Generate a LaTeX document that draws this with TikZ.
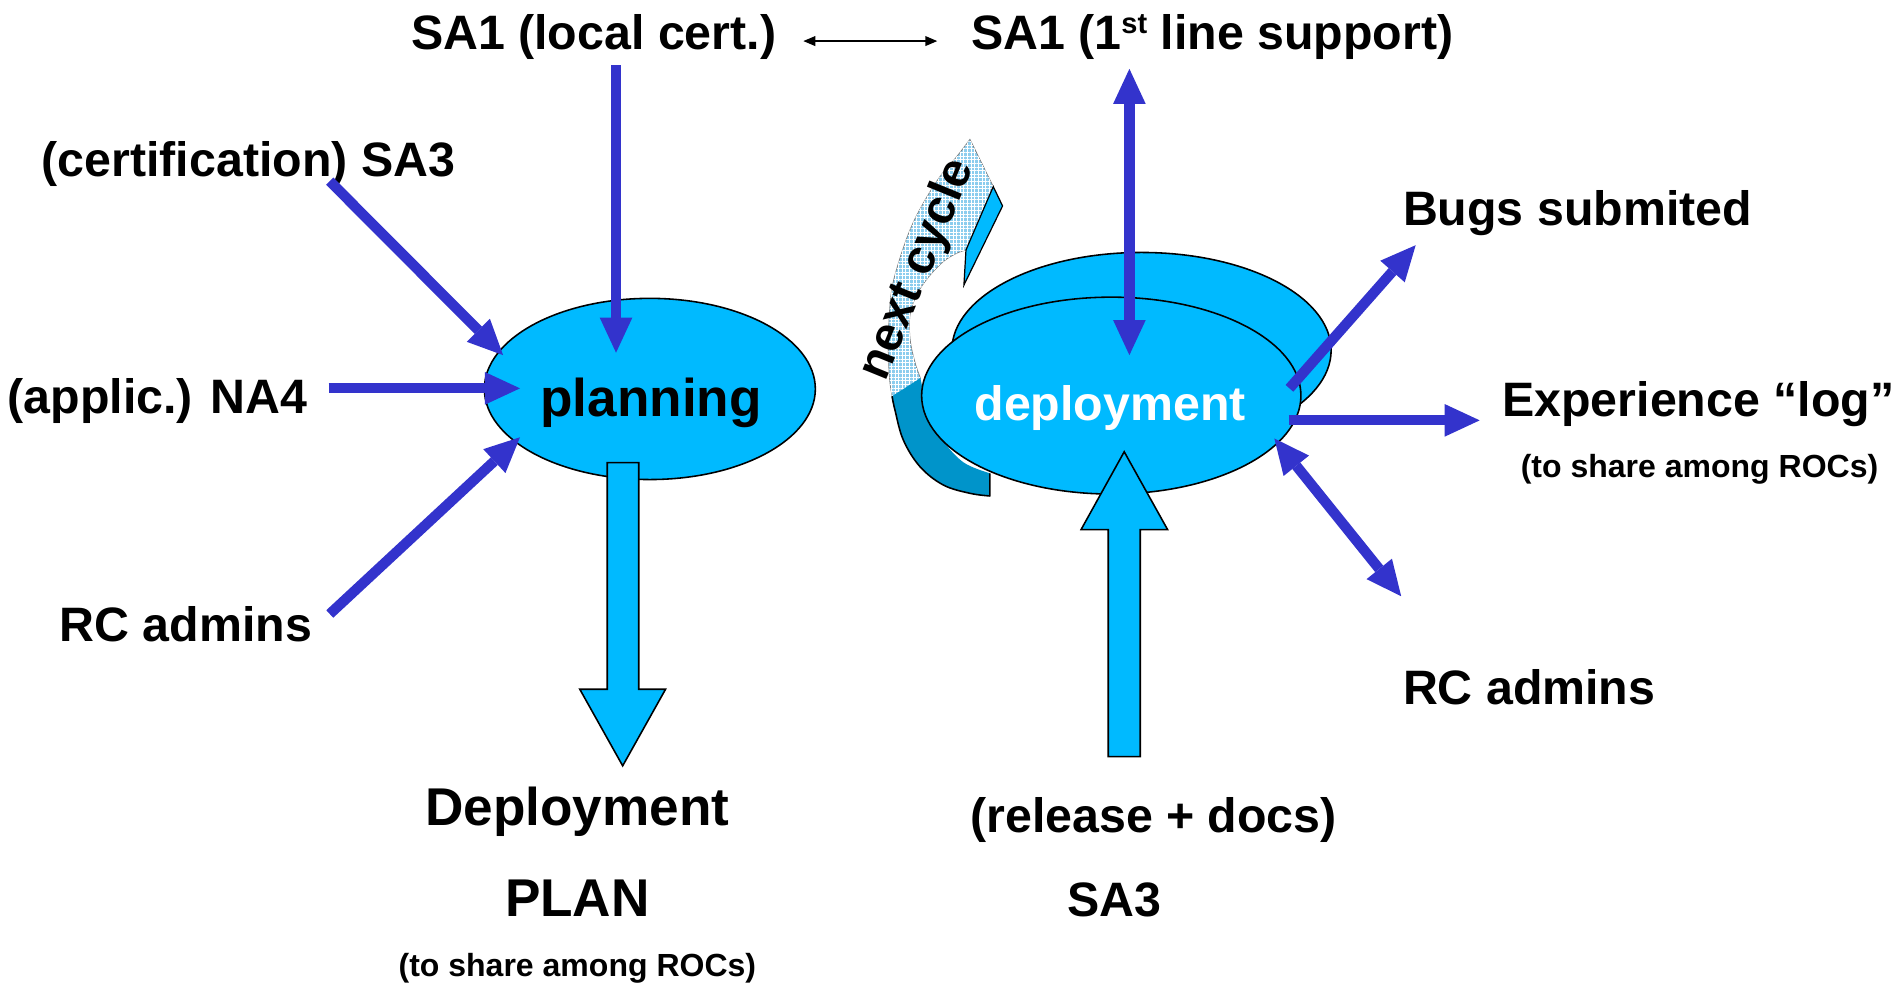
\documentclass[tikz,border=0pt]{standalone}
\usepackage{fontspec}
\setmainfont{Liberation Sans}
\usetikzlibrary{arrows.meta,shapes.geometric,patterns.meta}
\definecolor{skyb}{RGB}{0,186,255}
\definecolor{darkb}{RGB}{0,148,202}
\definecolor{arrb}{RGB}{51,51,204}
\definecolor{patb}{RGB}{140,205,238}
\begin{document}
\begin{tikzpicture}[x=1pt,y=-1pt,
  lbl/.style={font=\fontsize{40}{48}\selectfont\bfseries, anchor=base, inner sep=0pt},
  biglbl/.style={font=\fontsize{44}{52}\selectfont\bfseries, anchor=base, inner sep=0pt},
  smalllbl/.style={font=\fontsize{26.5}{32}\selectfont\bfseries, anchor=base, inner sep=0pt},
  blob/.style={draw=black, line width=1.3pt, fill=skyb, ellipse, inner sep=0pt, outer sep=0pt},
  barrow/.style={draw=arrb, line width=8.5pt, -{Triangle[length=29pt,width=27pt,line width=0pt]}},
  bbarrow/.style={draw=arrb, line width=8.5pt, {Triangle[length=29pt,width=27pt,line width=0pt]}-{Triangle[length=29pt,width=27pt,line width=0pt]}},
  block/.style={draw=black, line width=1.3pt, fill=skyb, line join=miter}]

\useasboundingbox (0,0) rectangle (1568,816.3);

% ---- curved "next cycle" arrow (behind the deployment ellipses)
\path[fill=patb, draw=gray, line width=0.6pt,
  postaction={pattern={Lines[angle=0,distance=3pt,line width=0.8pt]}, pattern color=white},
  postaction={pattern={Lines[angle=90,distance=3pt,line width=0.8pt]}, pattern color=white}]
  (803,115.3) -- plot[smooth, tension=0.6] coordinates {(803,115.3) (792,129.7) (778.1,146.3) (764.3,168.3) (753.3,190.4) (743.7,218) (738.2,240) (736,265) (735.4,289.7) (736.8,317.3) (740.9,339.4)}
  -- (762,313)
  -- plot[smooth, tension=0.6] coordinates {(762,313) (757.5,300) (753.5,281) (753.5,260) (759.5,243) (769,229) (780.9,216.6) (792,209.7) (799.7,207)}
  -- (822.3,154.5) -- cycle;
\path[fill=darkb]
  (738.5,328) -- plot[smooth, tension=0.6] coordinates {(738.5,328) (740.9,339.4) (747.8,364.2) (761.6,386.3) (780.9,401.5) (803,408.4) (819.5,410.6)}
  -- (819.5,391.8)
  -- plot[smooth, tension=0.6] coordinates {(819.5,391.8) (798,383) (781,365) (769,342) (762,313)}
  -- cycle;
\draw[line width=1.3pt, line join=round]
  plot[smooth, tension=0.6] coordinates {(738.5,328) (740.9,339.4) (747.8,364.2) (761.6,386.3) (780.9,401.5) (803,408.4) (819.5,410.6)}
  -- (819.5,391.8);
\draw[fill=skyb, line width=1pt, line join=miter] (822.3,154.5) -- (830,170.5) -- (798,236) -- (799.7,207) -- cycle;

% ---- ellipses
\node[blob, minimum width=314pt, minimum height=162pt] (backE) at (945,290) {};
\node[blob, minimum width=314pt, minimum height=163pt] (depE) at (920,327.5) {};
\node[blob, minimum width=274pt, minimum height=150pt] (planE) at (538,322) {};

% ---- block arrows
\draw[block] (502.7,383) -- (528.8,383) -- (528.8,570.6) -- (551,570.6) -- (515.5,634) -- (480,570.6) -- (502.7,570.6) -- cycle;
\draw[block] (917.5,626.4) -- (944,626.4) -- (944,438.4) -- (966.6,438.4) -- (930.7,374) -- (895,438.4) -- (917.5,438.4) -- cycle;

% ---- labels
\node[lbl] (sa1l) at (491.5,41) {SA1 (local cert.)};
\node[lbl] (sa1s) at (1003.5,41) {SA1 (1\raisebox{13pt}{\fontsize{24}{24}\selectfont st} line support)};
\node[lbl] (cert) at (205.7,146) {(certification) SA3};
\node[lbl] (na4) at (130.5,342) {(applic.) NA4};
\node[lbl] (rcl) at (154,531) {RC admins};
\node[biglbl] (plant) at (539,345) {planning};
\node[lbl, text=white] (dept) at (919,348) {deployment};
\node[biglbl] (dplan1) at (478,683) {Deployment};
\node[biglbl] (dplan2) at (478,758.8) {PLAN};
\node[smalllbl] (share1) at (478,808) {(to share among ROCs)};
\node[lbl] (rel) at (955,689.5) {(release + docs)};
\node[lbl] (sa3b) at (922.7,758.8) {SA3};
\node[lbl] (rcr) at (1266,583.4) {RC admins};
\node[lbl] (bugs) at (1306,186.3) {Bugs submited};
\node[lbl] (exp) at (1406,345) {Experience “log”};
\node[smalllbl] (share2) at (1407,395) {(to share among ROCs)};
\node[lbl, rotate=67.8] (nc) at (769.6,227.2) {next cycle};

% ---- blue arrows
\coordinate (a1s) at (510,54);     \coordinate (a1e) at (510,292);
\coordinate (a2s) at (273,150);    \coordinate (a2e) at (416.5,294);
\coordinate (a3s) at (272,321.5);  \coordinate (a3e) at (430.5,321.5);
\coordinate (a4s) at (273,508.3);  \coordinate (a4e) at (430.5,362);
\coordinate (a5s) at (935,57);     \coordinate (a5e) at (935,294);
\coordinate (a6s) at (1067.5,321.5); \coordinate (a6e) at (1172,203);
\coordinate (a7s) at (1067,348);   \coordinate (a7e) at (1225,348);
\coordinate (a8s) at (1055,363);   \coordinate (a8e) at (1160,493.6);
\draw[barrow] (a1s) -- (a1e);
\draw[barrow] (a2s) -- (a2e);
\draw[barrow] (a3s) -- (a3e);
\draw[barrow] (a4s) -- (a4e);
\draw[bbarrow] (a5s) -- (a5e);
\draw[barrow] (a6s) -- (a6e);
\draw[barrow] (a7s) -- (a7e);
\draw[bbarrow] (a8s) -- (a8e);

% ---- thin black double arrow
\coordinate (ks) at (665,34); \coordinate (ke) at (776,34);
\draw[line width=1.5pt, {Triangle[length=10pt,width=8pt]}-{Triangle[length=10pt,width=8pt]}] (ks) -- (ke);
\end{tikzpicture}
\end{document}
